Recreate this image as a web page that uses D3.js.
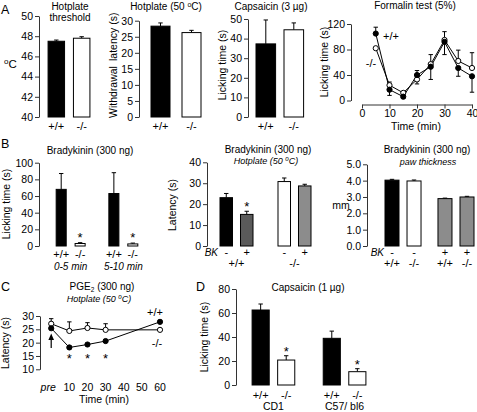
<!DOCTYPE html>
<html><head><meta charset="utf-8">
<script src="https://cdn.jsdelivr.net/npm/d3@7"></script>
<style>
body{margin:0;background:#fff}
svg{display:block;font-family:"Liberation Sans",Arial,sans-serif}
</style></head><body>
<svg id="c" width="477" height="412"></svg>
<script>
// ---------- DATA ----------
const genotypes = ["+/+", "-/-"];
// A1 hotplate threshold
const thresholdTicks = [40, 42, 44, 46, 48, 50];
const thresholdMean = [47.5, 47.8];
const thresholdErr = [0.12, 0.15];
// A2 hotplate 50C
const hot50Ticks = [0, 5, 10, 15, 20, 25, 30];
const hot50Mean = [28.3, 26.3];
const hot50Err = [1.0, 0.7];
// A3 capsaicin 3ug
const caps3Ticks = [0, 10, 20, 30, 40, 50];
const caps3Mean = [37.3, 44.5];
const caps3Err = [12.2, 3.5];
// A4 formalin
const formalinTicksX = [0, 10, 20, 30, 40];
const formalinTicksY = [0, 40, 80, 120];
const formalinTime = [5, 10, 15, 20, 25, 30, 35, 40];
const formalinWT = [105, 17, 6, 40, 53, 92, 51, 38];
const formalinWTErrUp = [10, 0, 0, 7, 0, 0, 0, 0];
const formalinWTErrDown = [0, 9, 2, 0, 20, 20, 13, 25];
const formalinKO = [82, 24, 12, 33, 57, 95, 62, 51];
const formalinKOErrUp = [0, 5, 2, 0, 15, 13, 17, 24];
const formalinKOErrDown = [0, 0, 0, 7, 0, 0, 0, 0];
// B1 bradykinin licking
const bkPeriods = ["0-5 min", "5-10 min"];
const bkLickTicks = [0, 20, 40, 60, 80, 100];
const bkLickWT = [68, 63];
const bkLickWTErr = [19, 25];
const bkLickKO = [3, 2.5];
const bkLickKOErr = [1, 1];
// B2 bradykinin hotplate
const bkHotTicks = [0, 10, 20, 30, 40];
const bkTreat = ["-", "+"];
const bkHotWT = [23.1, 15.1];
const bkHotWTErr = [2.0, 1.5];
const bkHotKO = [30.8, 28.7];
const bkHotKOErr = [1.7, 0.8];
// B3 paw thickness
const pawTicks = [0, 1, 2, 3, 4, 5];
const pawNoBK = [4.03, 3.98];
const pawNoBKErr = [0.05, 0.06];
const pawBK = [2.9, 3.0];
const pawBKErr = [0.03, 0.04];
// C PGE2
const pgeTicksX = [0, 10, 20, 30, 40, 50, 60];
const pgeTickLabels = ["pre", "10", "20", "30", "40", "50", "60"];
const pgeTicksY = [10, 15, 20, 25, 30];
const pgeTime = [0, 10, 20, 30, 60];
const pgeWT = [25.4, 18.2, 19.3, 20.6, 27.8];
const pgeWTErr = [0.6, 0.5, 0.5, 0.5, 0.6];
const pgeKO = [27.1, 24.4, 25.5, 24.8, 24.8];
const pgeKOErr = [1.9, 3.4, 2.0, 2.3, 0.4];
// D capsaicin 1ug
const strains = ["CD1", "C57/ bl6"];
const caps1Ticks = [0, 20, 40, 60, 80];
const caps1WT = [62.5, 38.9];
const caps1WTErr = [5.0, 6.0];
const caps1KO = [20.8, 11.1];
const caps1KOErr = [3.6, 2.5];

// ---------- DRAWING ----------
const svg = d3.select("#c");
const AX = "#333";
const FF = '"Liberation Sans", Arial, sans-serif';

function txt(x, y, s, o = {}) {
  const t = svg.append("text").attr("x", x).attr("y", y)
    .attr("font-size", o.size || 10).attr("text-anchor", o.anchor || "middle")
    .attr("font-style", o.italic ? "italic" : null).attr("fill", "#000").text(s);
  if (o.rot) t.attr("transform", `rotate(-90,${x},${y})`);
  return t;
}
function degTitle(x, y, pre, post, o = {}) {
  const t = svg.append("text").attr("x", x).attr("y", y).attr("font-size", o.size || 10)
    .attr("text-anchor", "middle").attr("font-style", o.italic ? "italic" : null);
  t.append("tspan").text(pre);
  t.append("tspan").attr("font-size", (o.size || 10) * 0.7).attr("dy", -3.5).text("o");
  t.append("tspan").attr("dy", 3.5).text(post);
  return t;
}
function yAxis(scale, ticks, x, labels) {
  const ax = d3.axisLeft(scale).tickValues(ticks).tickSize(4).tickSizeOuter(0).tickPadding(2);
  if (labels) ax.tickFormat((d, i) => labels[i]);
  const g = svg.append("g").attr("transform", `translate(${x},0)`).call(ax);
  g.attr("font-family", FF).attr("font-size", 10.5);
  g.select(".domain").attr("stroke", AX);
  g.selectAll(".tick line").attr("stroke", AX);
  g.selectAll(".tick text").attr("fill", "#000");
  return g;
}
function errBar(xc, y0, y1) {
  svg.append("line").attr("x1", xc).attr("x2", xc).attr("y1", y0).attr("y2", y1).attr("stroke", "#000").attr("stroke-width", 1);
  svg.append("line").attr("x1", xc - 2.2).attr("x2", xc + 2.2).attr("y1", y1).attr("y2", y1).attr("stroke", "#000").attr("stroke-width", 1);
}
function bar(x0, w, yScale, v, e, fill) {
  const base = yScale.range()[0];
  errBar(x0 + w / 2, yScale(v), yScale(v + e));
  svg.append("rect").attr("x", x0).attr("y", yScale(v)).attr("width", w).attr("height", base - yScale(v))
    .attr("fill", fill).attr("stroke", "#000").attr("stroke-width", 1);
}
function star(x, yc) {
  txt(x, yc + 7, "*", { size: 13 });
}

// Panel letters
txt(1, 14, "A", { size: 12.5, anchor: "start" });
txt(1, 148, "B", { size: 12.5, anchor: "start" });
txt(1, 291, "C", { size: 12.5, anchor: "start" });
txt(196, 291, "D", { size: 12.5, anchor: "start" });

// ---- A1 ----
{
  const y = d3.scaleLinear().domain([40, 50]).range([117, 16]);
  const x = d3.scaleBand().domain(genotypes).range([43, 95]).paddingInner(0.35).paddingOuter(0.2);
  yAxis(y, thresholdTicks, 39);
  genotypes.forEach((g, i) => {
    bar(x(g), x.bandwidth(), y, thresholdMean[i], thresholdErr[i], i ? "#fff" : "#000");
    txt(x(g) + x.bandwidth() / 2, 129.5, g, { size: 11 });
  });
  txt(70, 9.5, "Hotplate"); txt(70, 20.5, "threshold");
  const t = svg.append("text").attr("x", 4).attr("y", 68).attr("font-size", 11.5);
  t.append("tspan").attr("font-size", 8).attr("dy", -4).text("o");
  t.append("tspan").attr("dy", 4).text("C");
}
// ---- A2 ----
{
  const y = d3.scaleLinear().domain([0, 30]).range([117, 20.7]);
  const x = d3.scaleBand().domain(genotypes).range([144.8, 207.2]).paddingInner(0.387).paddingOuter(0.2);
  yAxis(y, hot50Ticks, 139);
  genotypes.forEach((g, i) => {
    bar(x(g), x.bandwidth(), y, hot50Mean[i], hot50Err[i], i ? "#fff" : "#000");
    txt(x(g) + x.bandwidth() / 2, 129.5, g, { size: 11 });
  });
  degTitle(166, 10, "Hotplate (50 ", "C)");
  txt(117, 118, "Withdrawal", { size: 10.5, rot: true, anchor: "start" });
  txt(117, 61, "latency (s)", { size: 10.5, rot: true, anchor: "start" });
}
// ---- A3 ----
{
  const y = d3.scaleLinear().domain([0, 50]).range([117, 19]);
  const x = d3.scaleBand().domain(genotypes).range([250.4, 309.2]).paddingInner(0.3).paddingOuter(0.2);
  yAxis(y, caps3Ticks, 248);
  genotypes.forEach((g, i) => {
    bar(x(g), x.bandwidth(), y, caps3Mean[i], caps3Err[i], i ? "#fff" : "#000");
    txt(x(g) + x.bandwidth() / 2, 129.5, g, { size: 11 });
  });
  txt(271, 10, "Capsaicin (3 \u00b5g)");
  txt(226, 65, "Licking time (s)", { size: 10.5, rot: true });
}
// ---- A4 formalin ----
{
  const y = d3.scaleLinear().domain([0, 120]).range([100.5, 24]);
  const x = d3.scaleLinear().domain([0, 40]).range([362, 472]);
  yAxis(y, formalinTicksY, 351);
  const gx = svg.append("g").attr("transform", "translate(0,104.5)")
    .call(d3.axisBottom(x).tickValues(formalinTicksX).tickSize(4).tickSizeOuter(0).tickPadding(1));
  gx.attr("font-family", FF).attr("font-size", 10.5);
  gx.select(".domain").attr("stroke", AX); gx.selectAll(".tick line").attr("stroke", AX);
  gx.selectAll(".tick text").attr("fill", "#000");
  txt(416, 130, "Time (min)", { size: 10.5 });
  txt(415, 9, "Formalin test (5%)");
  txt(328, 62, "Licking time (s)", { size: 10.5, rot: true });
  const line = d3.line().x((d, i) => x(formalinTime[i])).y(d => y(d));
  formalinTime.forEach((t, i) => {
    if (formalinWTErrUp[i]) errBar(x(t), y(formalinWT[i]), y(formalinWT[i] + formalinWTErrUp[i]));
    if (formalinWTErrDown[i]) errBar(x(t), y(formalinWT[i]), y(formalinWT[i] - formalinWTErrDown[i]));
    if (formalinKOErrUp[i]) errBar(x(t), y(formalinKO[i]), y(formalinKO[i] + formalinKOErrUp[i]));
    if (formalinKOErrDown[i]) errBar(x(t), y(formalinKO[i]), y(formalinKO[i] - formalinKOErrDown[i]));
  });
  svg.append("path").attr("d", line(formalinKO)).attr("fill", "none").attr("stroke", "#000").attr("stroke-width", 1);
  svg.append("path").attr("d", line(formalinWT)).attr("fill", "none").attr("stroke", "#000").attr("stroke-width", 1);
  formalinTime.forEach((t, i) => {
    svg.append("circle").attr("cx", x(t)).attr("cy", y(formalinKO[i])).attr("r", 2.6).attr("fill", "#fff").attr("stroke", "#000");
    svg.append("circle").attr("cx", x(t)).attr("cy", y(formalinWT[i])).attr("r", 2.6).attr("fill", "#000").attr("stroke", "#000");
  });
  txt(391, 40, "+/+", { size: 11 });
  txt(371, 67, "-/-", { size: 11 });
}
// ---- B1 ----
{
  const y = d3.scaleLinear().domain([0, 100]).range([246, 162.7]);
  const xo = d3.scaleBand().domain(bkPeriods).range([43, 151]).paddingInner(0.45).paddingOuter(0.25);
  const xi = d3.scaleBand().domain(genotypes).range([0, xo.bandwidth()]).paddingInner(0.47);
  yAxis(y, bkLickTicks, 39);
  bkPeriods.forEach((p, j) => {
    const b0 = xo(p);
    bar(b0 + xi("+/+"), xi.bandwidth(), y, bkLickWT[j], bkLickWTErr[j], "#000");
    bar(b0 + xi("-/-"), xi.bandwidth(), y, bkLickKO[j], bkLickKOErr[j], "#fff");
    star(b0 + xi("-/-") + xi.bandwidth() / 2, 235);
    txt(b0 + xi("+/+") + xi.bandwidth() / 2, 258, "+/+", { size: 11 });
    txt(b0 + xi("-/-") + xi.bandwidth() / 2, 258, "-/-", { size: 11 });
    txt(b0 + xo.bandwidth() / 2, 270, p, { size: 10, italic: true });
  });
  txt(90, 153.5, "Bradykinin (300 ng)");
  txt(10, 204, "Licking time (s)", { size: 10.5, rot: true });
}
// ---- B2 ----
{
  const y = d3.scaleLinear().domain([0, 40]).range([246, 162.3]);
  const xo = d3.scaleBand().domain(genotypes).range([208.4, 322.6]).paddingInner(0.431).paddingOuter(0.2);
  const xi = d3.scaleBand().domain(bkTreat).range([0, xo.bandwidth()]).paddingInner(0.39);
  yAxis(y, bkHotTicks, 207);
  const fills = [["#000", "#5a5a5a"], ["#fff", "#8c8c8c"]];
  const vals = [bkHotWT, bkHotKO], errs = [bkHotWTErr, bkHotKOErr];
  genotypes.forEach((g, j) => {
    bkTreat.forEach((t, k) => {
      const x0 = xo(g) + xi(t);
      bar(x0, xi.bandwidth(), y, vals[j][k], errs[j][k], fills[j][k]);
      txt(x0 + xi.bandwidth() / 2, 256, t, { size: 11 });
    });
    txt(xo(g) + xo.bandwidth() / 2, 267, g, { size: 11 });
  });
  star(xo("+/+") + xi("+") + xi.bandwidth() / 2, 204);
  txt(218, 256, "BK", { size: 10, italic: true, anchor: "end" });
  txt(268, 152.5, "Bradykinin (300 ng)");
  degTitle(266, 164, "Hotplate (50 ", "C)", { italic: true, size: 9 });
  txt(176, 205, "Latency (s)", { size: 10.5, rot: true });
}
// ---- B3 ----
{
  const y = d3.scaleLinear().domain([0, 5]).range([246, 164.3]);
  const xo = d3.scaleBand().domain(bkTreat).range([379.7, 479.3]).paddingInner(0.32).paddingOuter(0.1);
  const xi = d3.scaleBand().domain(genotypes).range([0, xo.bandwidth()]).paddingInner(0.364);
  yAxis(y, pawTicks, 367);
  const vals = [pawNoBK, pawBK], errs = [pawNoBKErr, pawBKErr];
  const fills = [["#000", "#fff"], ["#8c8c8c", "#8c8c8c"]];
  bkTreat.forEach((t, j) => {
    genotypes.forEach((g, k) => {
      const x0 = xo(t) + xi(g);
      bar(x0, xi.bandwidth(), y, vals[j][k], errs[j][k], fills[j][k]);
      txt(x0 + xi.bandwidth() / 2, 256, t, { size: 11 });
      txt(x0 + xi.bandwidth() / 2, 267, g, { size: 11 });
    });
  });
  txt(384, 256, "BK", { size: 10, italic: true, anchor: "end" });
  txt(427, 152.5, "Bradykinin (300 ng)");
  txt(428, 164.5, "paw thickness", { size: 9, italic: true });
  txt(341, 209, "mm", { size: 10.5 });
}
// ---- C ----
{
  const y = d3.scaleLinear().domain([10, 30]).range([369.3, 316]);
  const x = d3.scaleLinear().domain([0, 60]).range([51.2, 160]);
  yAxis(y, pgeTicksY, 40);
  pgeTicksX.forEach((t, i) => txt(x(t) - (i === 0 ? 3 : 0), 391, pgeTickLabels[i], { size: 10.5, italic: i === 0 }));
  txt(104, 402.5, "Time (min)", { size: 10.5 });
  const line = d3.line().x((d, i) => x(pgeTime[i])).y(d => y(d));
  pgeTime.forEach((t, i) => {
    errBar(x(t), y(pgeKO[i]), y(pgeKO[i] + pgeKOErr[i]));
    errBar(x(t), y(pgeWT[i]), y(pgeWT[i] + pgeWTErr[i]));
  });
  svg.append("path").attr("d", line(pgeKO)).attr("fill", "none").attr("stroke", "#000");
  svg.append("path").attr("d", line(pgeWT)).attr("fill", "none").attr("stroke", "#000");
  pgeTime.forEach((t, i) => {
    svg.append("circle").attr("cx", x(t)).attr("cy", y(pgeKO[i])).attr("r", 2.6).attr("fill", "#fff").attr("stroke", "#000");
    svg.append("circle").attr("cx", x(t)).attr("cy", y(pgeWT[i])).attr("r", 2.6).attr("fill", "#000").attr("stroke", "#000");
  });
  [10, 20, 30].forEach(t => star(x(t), 356));
  svg.append("line").attr("x1", x(0)).attr("x2", x(0)).attr("y1", 348).attr("y2", 339).attr("stroke", "#000").attr("stroke-width", 1.2);
  svg.append("path").attr("d", `M${x(0) - 2.8},${340} L${x(0)},${333.5} L${x(0) + 2.8},${340} Z`).attr("fill", "#000");
  txt(155, 315.5, "+/+", { size: 11 });
  txt(157, 347, "-/-", { size: 11 });
  const t = svg.append("text").attr("x", 102).attr("y", 290).attr("font-size", 10).attr("text-anchor", "middle");
  t.append("tspan").text("PGE");
  t.append("tspan").attr("font-size", 6.5).attr("dy", 2).text("2");
  t.append("tspan").attr("dy", -2).text(" (300 ng)");
  degTitle(99, 302, "Hotplate (50 ", "C)", { italic: true, size: 9 });
  txt(9, 343, "Latency (s)", { size: 10.5, rot: true });
}
// ---- D ----
{
  const y = d3.scaleLinear().domain([0, 80]).range([385, 289]);
  const xo = d3.scaleBand().domain(strains).range([240, 378]).paddingInner(0.4).paddingOuter(0.17);
  const xi = d3.scaleBand().domain(genotypes).range([0, xo.bandwidth()]).paddingInner(0.33);
  yAxis(y, caps1Ticks, 236);
  strains.forEach((s, j) => {
    const xw = xo(s) + xi("+/+"), xk = xo(s) + xi("-/-");
    bar(xw, xi.bandwidth(), y, caps1WT[j], caps1WTErr[j], "#000");
    bar(xk, xi.bandwidth(), y, caps1KO[j], caps1KOErr[j], "#fff");
    star(xk + xi.bandwidth() / 2, y(caps1KO[j] + caps1KOErr[j]) - 7);
    txt(xw + xi.bandwidth() / 2, 399, "+/+", { size: 11 });
    txt(xk + xi.bandwidth() / 2, 399, "-/-", { size: 11 });
    txt(xo(s) + xo.bandwidth() / 2, 410, s, { size: 10.5 });
  });
  txt(308, 291, "Capsaicin (1 \u00b5g)");
  txt(208, 337, "Licking time (s)", { size: 10.5, rot: true });
}
</script>
</body></html>
